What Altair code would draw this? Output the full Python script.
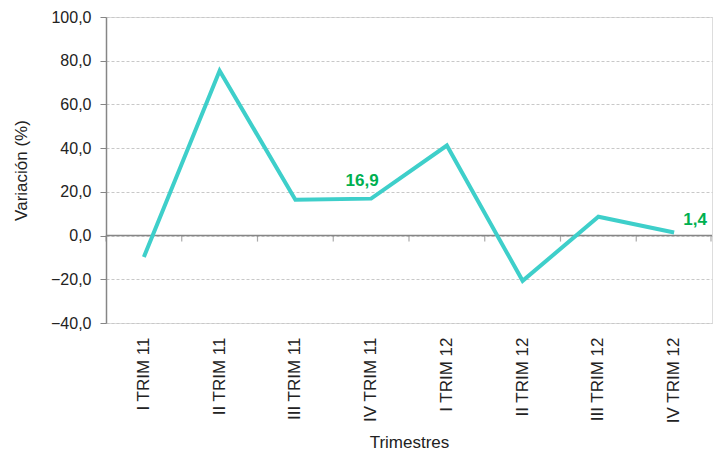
import altair as alt
import pandas as pd

trimestres = ["I TRIM 11", "II TRIM 11", "III TRIM 11", "IV TRIM 11",
              "I TRIM 12", "II TRIM 12", "III TRIM 12", "IV TRIM 12"]
variacion = [-9.8, 75.4, 16.4, 16.9, 41.2, -20.7, 8.6, 1.4]
etiquetas = ["", "", "", "16,9", "", "", "", "1,4"]
y_ticks = [-40, -20, 0, 20, 40, 60, 80, 100]

df = pd.DataFrame({"trim": trimestres, "val": variacion, "lab": etiquetas})

FONT = "Liberation Sans"
FS = 17
W, H = 606, 306
xscale = alt.Scale(type="band", domain=trimestres, paddingInner=0, paddingOuter=0)
yscale = alt.Scale(domain=[-40, 100], nice=False, zero=False)

base = alt.Chart(df)

line = base.mark_line(color="#3ECFCA", strokeWidth=4, strokeJoin="miter").encode(
    x=alt.X("trim:N", scale=xscale, sort=trimestres, bandPosition=0.5,
            axis=alt.Axis(title="Trimestres", labelAngle=-90, labelAlign="right",
                          labelBaseline="middle", labelPadding=14, domain=False,
                          ticks=False, grid=False, labelFont=FONT, labelFontSize=FS,
                          labelColor="#222222", titleFont=FONT, titleFontSize=FS,
                          titleFontWeight="normal", titleColor="#222222",
                          titleX=W / 2, titleY=124, titleBaseline="alphabetic",
                          titleAlign="center")),
    y=alt.Y("val:Q", scale=yscale,
            axis=alt.Axis(title="Variación (%)", values=y_ticks,
                          labelExpr="format(datum.value, '.1f')",
                          grid=True, gridColor="#c8c8c8", gridDash=[3, 2],
                          domainColor="#868686", domainWidth=1.5, tickColor="#868686",
                          tickSize=6, labelFont=FONT, labelFontSize=16,
                          labelColor="#222222", labelPadding=9, titleFont=FONT,
                          titleFontSize=FS, titleFontWeight="normal",
                          titleColor="#222222", titleX=-80, titleY=H / 2,
                          titleBaseline="alphabetic", titleAlign="center",
                          titleAngle=270)),
)

zero_rule = alt.Chart(pd.DataFrame({"z": [0]})).mark_rule(
    color="#868686", strokeWidth=1.5).encode(
    y=alt.Y("z:Q", scale=yscale), x=alt.value(0), x2=alt.value(W))

ticks_df = pd.DataFrame({"trim": trimestres, "z": [0] * 8})
zticks = alt.Chart(ticks_df).mark_tick(
    color="#868686", orient="vertical", size=6, thickness=1.2, yOffset=3).encode(
    x=alt.X("trim:N", scale=xscale, sort=trimestres, bandPosition=0),
    y=alt.Y("z:Q", scale=yscale))
end_tick = alt.Chart(pd.DataFrame({"z": [0]})).mark_tick(
    color="#868686", orient="vertical", size=6, thickness=1.2, yOffset=3).encode(
    x=alt.value(W - 1), y=alt.Y("z:Q", scale=yscale))

lab_a = base.transform_filter("datum.lab == '16,9'").mark_text(
    color="#00B050", fontWeight="bold", font=FONT, fontSize=FS, dx=-9, dy=-18).encode(
    x=alt.X("trim:N", scale=xscale, sort=trimestres, bandPosition=0.5),
    y=alt.Y("val:Q", scale=yscale), text="lab:N")
lab_b = base.transform_filter("datum.lab == '1,4'").mark_text(
    color="#00B050", fontWeight="bold", font=FONT, fontSize=FS, dx=21, dy=-13).encode(
    x=alt.X("trim:N", scale=xscale, sort=trimestres, bandPosition=0.5),
    y=alt.Y("val:Q", scale=yscale), text="lab:N")

chart = alt.layer(zero_rule, zticks, end_tick, line, lab_a, lab_b).properties(
    width=W, height=H,
    autosize=alt.AutoSizeParams(type="none"),
    padding={"left": 98, "top": 9, "right": 1, "bottom": 129},
).configure_view(stroke=None).configure(
    locale={"number": {"decimal": ",", "thousands": ".", "grouping": [3], "currency": ["", "€"]}}
)

chart.save("out.html", embed_options={"renderer": "svg", "actions": False})
